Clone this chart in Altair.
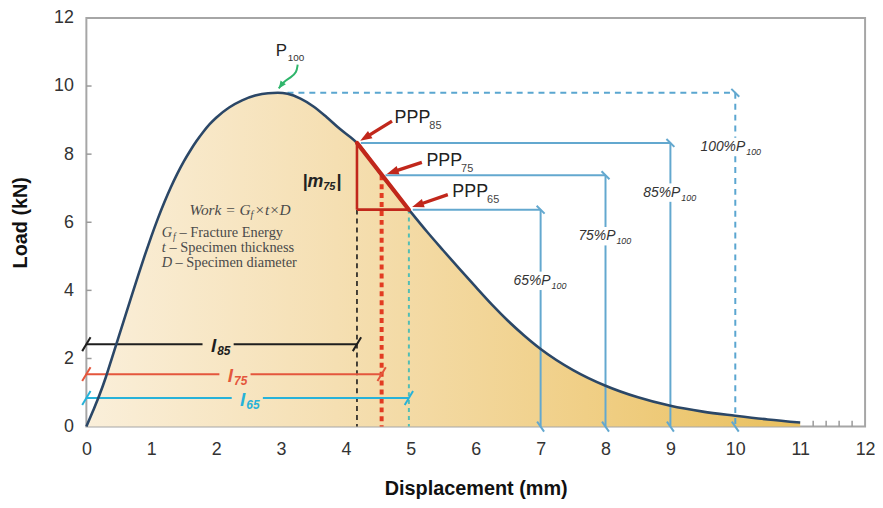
import math
import altair as alt
import pandas as pd

# ---------------- data ----------------
disp = [0, 0.1, 0.2, 0.3, 0.4, 0.5, 0.6, 0.7, 0.8, 0.9, 1.0, 1.1, 1.2, 1.3, 1.4, 1.5, 1.6,
        1.7, 1.8, 1.9, 2.0, 2.2, 2.4, 2.6, 2.8, 2.95, 3.1, 3.3, 3.5, 3.7, 3.9, 4.17, 4.55,
        4.97, 5.25, 5.5, 5.75, 6.0, 6.25, 6.5, 6.75, 7.0, 7.5, 8.0, 8.5, 9.0, 9.5, 10.0,
        10.5, 11.0]
load = [0, 0.45, 0.92, 1.45, 2.05, 2.65, 3.25, 3.85, 4.45, 5.03, 5.58, 6.1, 6.58, 7.02,
        7.42, 7.78, 8.1, 8.39, 8.65, 8.88, 9.07, 9.37, 9.58, 9.72, 9.79, 9.8, 9.77, 9.63,
        9.4, 9.09, 8.75, 8.33, 7.38, 6.37, 5.72, 5.17, 4.63, 4.1, 3.58, 3.1, 2.67, 2.28,
        1.66, 1.2, 0.86, 0.61, 0.44, 0.32, 0.21, 0.12]

x_ticks = list(range(0, 13))
y_ticks = [0, 2, 4, 6, 8, 10, 12]
y_inner_ticks = [2, 4, 6, 8, 10]
x_minor_ticks = [11.2, 11.4, 11.6, 11.8]

P100 = 9.8
peak_x = 3.1
ppp_names = ["85", "75", "65"]
ppp_x = [4.17, 4.55, 4.97]
ppp_y = [8.33, 7.38, 6.37]
box_x = [9, 8, 7]
pct_label_y = [6.87, 5.59, 4.28]
box100_x = 10
pct100_label_y = 8.21

ppp_text_x = [4.75, 5.24, 5.64]
ppp_text_y = [9.07, 7.81, 6.90]
ppp_tail = [(4.71, 8.97), (5.17, 7.76), (5.57, 6.81)]
ppp_head = [(4.22, 8.39), (4.63, 7.42), (5.02, 6.45)]

dim_names = ["85", "75", "65"]
dim_y = [2.42, 1.54, 0.84]
dim_label_x = [2.0, 2.26, 2.45]
dim_colors = ["#1e1e1e", "#e4563c", "#27b2d9"]

p100_label = (2.92, 11.04)
green_curve_x = [3.256, 3.241, 3.149, 3.042]
green_curve_y = [10.63, 10.40, 10.25, 10.13]
green_tip = (2.965, 9.93)

m75_pos = (3.33, 7.19)
work_pos = (2.53, 6.35)
legend_x = 1.16
legend_y = [5.68, 5.24, 4.81]

# ---------------- layout ----------------
W, H = 785, 412
PX_X = W / 12.0
PX_Y = H / 12.0

SANS = "Liberation Sans"
SERIF = "Liberation Serif"

xsc = alt.Scale(domain=[0, 12], nice=False, zero=False)
ysc = alt.Scale(domain=[0, 12], nice=False, zero=False)
xax = alt.Axis(values=x_ticks, ticks=False, domain=False, grid=False, labelFontSize=18,
               labelFont=SANS, labelColor="#333333", labelPadding=14, labelFlush=False,
               title="Displacement (mm)", titleFont=SANS, titleFontSize=20,
               titleFontWeight="bold", titleColor="#111111", titlePadding=20)
yax = alt.Axis(values=y_ticks, ticks=False, domain=False, grid=False, labelFontSize=18,
               labelFont=SANS, labelColor="#333333", labelPadding=13, labelFlush=False,
               title="Load (kN)", titleFont=SANS, titleFontSize=20,
               titleFontWeight="bold", titleColor="#111111", titlePadding=23)

X = alt.X("x:Q", scale=xsc, axis=xax)
Y = alt.Y("y:Q", scale=ysc, axis=yax)


def segs(rows, color, width, dash=None, cap="butt"):
    df = pd.DataFrame(rows, columns=["x", "y", "x2", "y2"])
    kw = dict(color=color, strokeWidth=width, strokeCap=cap)
    if dash:
        kw["strokeDash"] = dash
    return alt.Chart(df).mark_rule(**kw).encode(x=X, y=Y, x2="x2:Q", y2="y2:Q")


def symbols(rows, shape, size, color, filled=False, width=2.0):
    df = pd.DataFrame(rows, columns=["x", "y", "a"])
    return alt.Chart(df).mark_point(shape=shape, size=size, filled=filled, color=color,
                                    strokeWidth=width, opacity=1).encode(
        x=X, y=Y, angle=alt.Angle("a:Q", scale=None))


def label(rows, size, color, dx=0, dy=0, align="left", font=SANS, style="normal", weight="normal"):
    df = pd.DataFrame(rows, columns=["x", "y", "t"])
    return alt.Chart(df).mark_text(fontSize=size, color=color, dx=dx, dy=dy, align=align,
                                   baseline="middle", font=font, fontStyle=style,
                                   fontWeight=weight).encode(x=X, y=Y, text="t:N")


def screen_angle(x0, y0, x1, y1):
    dx = (x1 - x0) * PX_X
    dy = -(y1 - y0) * PX_Y
    return (math.degrees(math.atan2(dx, -dy)) + 360) % 360


curve = pd.DataFrame({"x": disp, "y": load})
grad = alt.Gradient(gradient="linear", x1=0, x2=1, y1=0, y2=0, stops=[
    alt.GradientStop(color="#faefda", offset=0),
    alt.GradientStop(color="#f5dfb2", offset=0.35),
    alt.GradientStop(color="#f0cf86", offset=0.7),
    alt.GradientStop(color="#e9c05e", offset=1)])

layers = []
layers.append(alt.Chart(curve).mark_area(interpolate="monotone", color=grad).encode(x=X, y=Y))

# inner ticks
layers.append(segs([(0, v, 0.08, v) for v in y_inner_ticks], "#9a9a9a", 1.5))
layers.append(segs([(v, 0, v, 0.17) for v in x_minor_ticks], "#9a9a9a", 1.5))

# blue boxes
GAP = 0.27
blue = "#63a8cf"
rows = []
for px_, py_, bx, ly in zip(ppp_x, ppp_y, box_x, pct_label_y):
    rows.append((px_ + 0.06, py_, bx, py_))
    rows.append((bx, py_, bx, ly + GAP))
    rows.append((bx, ly - GAP, bx, 0))
layers.append(segs(rows, blue, 2))
layers.append(segs([(peak_x, P100, box100_x, P100),
                    (box100_x, P100, box100_x, pct100_label_y + GAP),
                    (box100_x, pct100_label_y - GAP, box100_x, 0)], "#5aa6d0", 2, dash=[6, 5]))
corner_rows = [(bx, py_, 0) for bx, py_ in zip(box_x, ppp_y)] + [(box100_x, P100, 0)]
layers.append(symbols(corner_rows, "M-1,-1L1,1", 64, blue, width=2))
bottom_rows = [(bx, 0, 0) for bx in box_x] + [(box100_x, 0, 0)]
layers.append(symbols(bottom_rows, "M-0.7,-1L0.7,1", 100, blue, width=2))

# vertical drop lines
layers.append(segs([(ppp_x[0], ppp_y[2], ppp_x[0], 0)], "#1a1a1a", 1.6, dash=[5, 4]))
layers.append(segs([(ppp_x[1], ppp_y[1], ppp_x[1], 0)], "#e23b22", 4, dash=[5, 4]))
layers.append(segs([(ppp_x[2], ppp_y[2], ppp_x[2], 0)], "#52bdb5", 2, dash=[4, 4]))

# dimension lines l85, l75, l65
for name, yy, lx, col, xe in zip(dim_names, dim_y, dim_label_x, dim_colors, ppp_x):
    layers.append(segs([(0, yy, lx - 0.21, yy), (lx + 0.27, yy, xe, yy)], col, 2))
    layers.append(symbols([(0, yy, 0), (xe, yy, 0)], "M-0.6,1L0.6,-1", 196, col, width=2))
    layers.append(label([(lx, yy, "l")], 19, col, dy=2, align="right", style="italic", weight="bold"))
    layers.append(label([(lx, yy, name)], 12, col, dx=1, dy=7, style="italic", weight="bold"))

# curve line
layers.append(alt.Chart(curve).mark_line(interpolate="monotone", color="#2b4767",
                                         strokeWidth=2.6).encode(x=X, y=Y))

# red triangle
red = "#c1271b"
layers.append(segs([(ppp_x[0], ppp_y[0], ppp_x[0], ppp_y[2]),
                    (ppp_x[0], ppp_y[2], ppp_x[2], ppp_y[2])], red, 2.6))
layers.append(segs([(ppp_x[0], ppp_y[0], ppp_x[2], ppp_y[2])], red, 4.2, cap="round"))

# red arrows
shaft_rows, head_rows = [], []
for (tx, ty), (hx, hy) in zip(ppp_tail, ppp_head):
    ang = screen_angle(tx, ty, hx, hy)
    shaft_rows.append((tx, ty, hx + (tx - hx) * 0.3, hy + (ty - hy) * 0.3))
    head_rows.append((hx, hy, ang))
layers.append(segs(shaft_rows, red, 3.4))
layers.append(symbols(head_rows, "M0,0L0.62,1.7L-0.62,1.7Z", 196, red, filled=True, width=0))

# PPP labels
for nm, tx, ty in zip(ppp_names, ppp_text_x, ppp_text_y):
    layers.append(label([(tx, ty, "PPP")], 18, "#222222"))
    layers.append(label([(tx, ty, nm)], 11, "#444444", dx=35, dy=8))

# percentage labels
for pct, bx, ly in [("85", box_x[0], pct_label_y[0]), ("75", box_x[1], pct_label_y[1]),
                    ("65", box_x[2], pct_label_y[2]), ("100", box100_x, pct100_label_y)]:
    layers.append(label([(bx, ly, pct + "%P")], 14, "#333333", dx=10, align="right", style="italic"))
    layers.append(label([(bx, ly, "100")], 9, "#333333", dx=11, dy=5, style="italic"))

# P100 with green arrow
green = "#2fb56b"
gdf = pd.DataFrame({"x": green_curve_x + [green_tip[0]], "y": green_curve_y + [green_tip[1]],
                    "o": list(range(len(green_curve_x) + 1))})
layers.append(alt.Chart(gdf).mark_line(interpolate="basis", color=green, strokeWidth=2).encode(
    x=X, y=Y, order="o:Q"))
layers.append(symbols([(green_tip[0], green_tip[1],
                        screen_angle(green_curve_x[-1], green_curve_y[-1], *green_tip))],
                      "M0,0L0.7,1.6L-0.7,1.6Z", 90, green, filled=True, width=0))
layers.append(label([(p100_label[0], p100_label[1], "P")], 17, "#222222"))
layers.append(label([(p100_label[0], p100_label[1], "100")], 10, "#333333", dx=12, dy=7))

# |m75|
layers.append(label([(m75_pos[0], m75_pos[1], "|m")], 18, "#222222", style="italic", weight="bold"))
layers.append(label([(m75_pos[0], m75_pos[1], "75")], 11, "#222222", dx=21, dy=5, style="italic", weight="bold"))
layers.append(label([(m75_pos[0], m75_pos[1], "|")], 18, "#222222", dx=34, style="italic", weight="bold"))

# formula
fc = "#4a4a4a"
layers.append(label([(work_pos[0], work_pos[1], "Work = G")], 15.5, fc, align="right", font=SERIF, style="italic"))
layers.append(label([(work_pos[0], work_pos[1], "f")], 10, fc, dx=0, dy=5, font=SERIF, style="italic"))
layers.append(label([(work_pos[0], work_pos[1], "×t×D")], 15.5, fc, dx=4, font=SERIF, style="italic"))

LF = 14.5
layers.append(label([(legend_x, legend_y[0], "G")], LF, fc, font=SERIF, style="italic"))
layers.append(label([(legend_x, legend_y[0], "f")], 9.5, fc, dx=11.5, dy=4, font=SERIF, style="italic"))
layers.append(label([(legend_x, legend_y[0], "– Fracture Energy")], LF, fc, dx=18, font=SERIF))
layers.append(label([(legend_x, legend_y[1], "t")], LF, fc, font=SERIF, style="italic"))
layers.append(label([(legend_x, legend_y[1], "– Specimen thickness")], LF, fc, dx=8, font=SERIF))
layers.append(label([(legend_x, legend_y[2], "D")], LF, fc, font=SERIF, style="italic"))
layers.append(label([(legend_x, legend_y[2], "– Specimen diameter")], LF, fc, dx=14, font=SERIF))

chart = alt.layer(*layers).properties(
    width=W, height=H,
    autosize=alt.AutoSizeParams(type="none"),
    padding={"left": 79, "top": 8, "right": 10, "bottom": 72},
    background="white",
).configure_view(stroke="#a6a6a6", strokeWidth=2)

chart.save("out.html", embed_options={"renderer": "svg", "actions": False})
